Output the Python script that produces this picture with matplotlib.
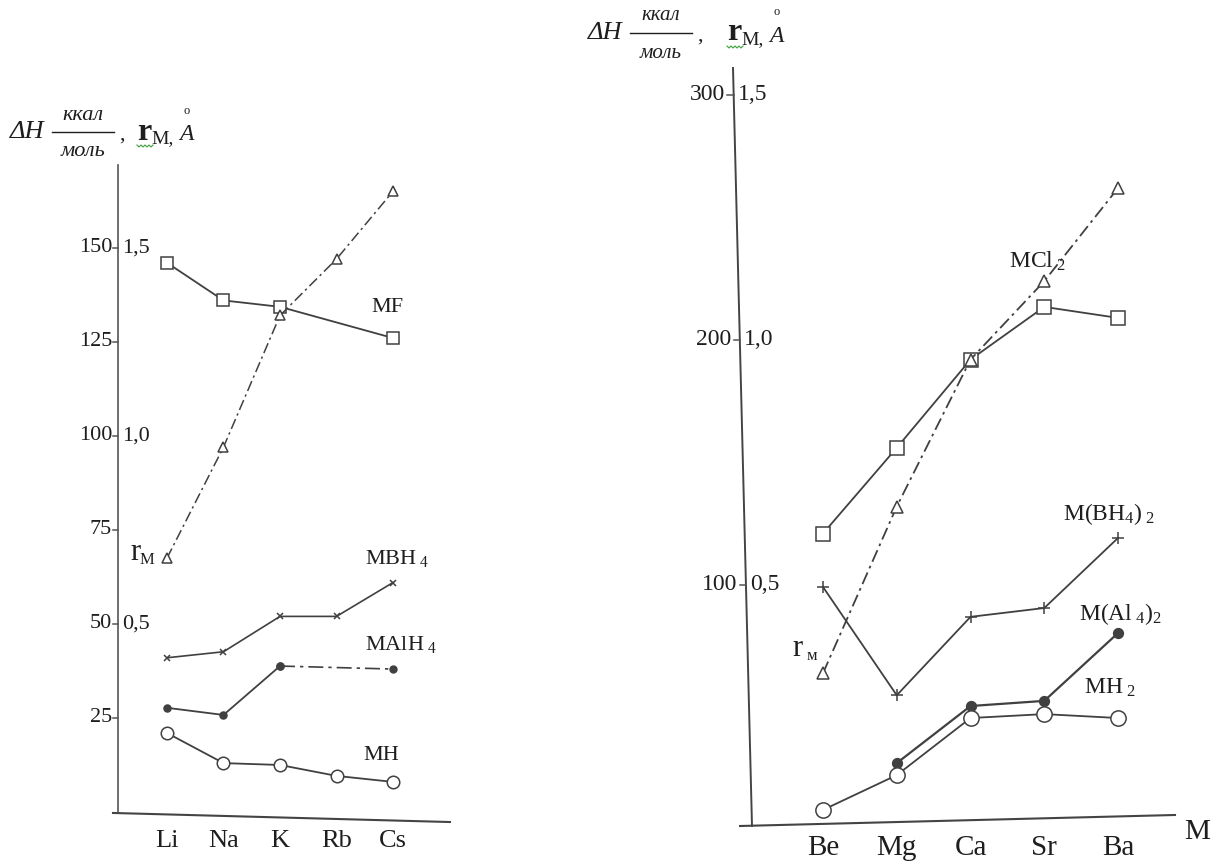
import numpy as np
import matplotlib
matplotlib.use("Agg")
import matplotlib.pyplot as plt
from matplotlib.lines import Line2D

plt.rcParams['font.family'] = ['Liberation Serif', 'DejaVu Serif']
plt.rcParams['mathtext.fontset'] = 'custom'
plt.rcParams['mathtext.rm'] = 'Liberation Serif'
plt.rcParams['mathtext.it'] = 'Liberation Serif:italic'
plt.rcParams['mathtext.bf'] = 'Liberation Serif:bold'

# щелочные металлы
alk = ['Li', 'Na', 'K', 'Rb', 'Cs']
mf = [146, 136, 134.3, None, 126]          # ккал/моль (Rb нет)
mbh4 = [41, 42.6, 52, 52, 61]
malh4 = [27.7, 25.8, 38.8, 38.4, 38]
mh = [21, 13, 12.5, 9.6, 8]
r_alk = [0.675, 0.97, 1.32, 1.47, 1.65]    # радиус, Å

# щелочноземельные металлы
aek = ['Be', 'Mg', 'Ca', 'Sr', 'Ba']
mcl2 = [121, 156, 192, 213.5, 209]
mbh4_2 = [99.2, 55, 87, 90.6, 119.2]
malh4_2 = [None, 27.3, 50.6, 52.7, 80.4]
mh2 = [8.2, 22.4, 45.7, 47.3, 45.7]
r_aek = [0.32, 0.66, 0.96, 1.12, 1.31]

left_ticks = [25, 50, 75, 100, 125, 150]
left_r_ticks = [50, 100, 150]
left_r_labels = ['0,5', '1,0', '1,5']
right_ticks = [100, 200, 300]
right_r_labels = ['0,5', '1,0', '1,5']

W, H = 1212, 863
fig = plt.figure(figsize=(W / 100, H / 100), dpi=100)
fig.patch.set_facecolor('white')

LC = '#404040'
TC = '#1e1e1e'


def fx(px):
    return px / W


def fy(py):
    return 1 - py / H


def put(x, y, s, size, **kw):
    kw.setdefault('color', TC)
    kw.setdefault('ha', 'left')
    kw.setdefault('va', 'center')
    fig.text(fx(x), fy(y), s, fontsize=size, **kw)


def series(ax, xs, ys, marker, ms, face, ls='-', lw=1.3):
    pts = [(x, y) for x, y in zip(xs, ys) if y is not None]
    ax.plot([p[0] for p in pts], [p[1] for p in pts], color=LC, lw=lw, ls=ls,
            marker=marker, ms=ms, mfc=face, mec=LC, mew=1.1, clip_on=False, zorder=3)


dashdot = (0, (7, 2.5, 1.5, 2.5))

# ---------- левый график: MX ----------
axl = fig.add_axes([fx(118), fy(812), (445 - 118) / W, (812 - 165) / H])
axl.set_xlim(-0.867, 4.92)
axl.set_ylim(0, 172)
axl.axis('off')
xl = np.arange(len(alk))

axl.plot([0, 0], [0, 1], transform=axl.transAxes, color='#555', lw=1.2, clip_on=False)
axl.plot([-0.0153, 1.0153], [-0.0015, -0.0155], transform=axl.transAxes,
         color='#444', lw=1.5, clip_on=False)

series(axl, xl, mf, 's', 8, 'white')
series(axl, xl, [v * 100 for v in r_alk], '^', 7, 'white', ls=dashdot, lw=1.1)
series(axl, xl, mbh4, 'x', 5, 'none', lw=1.2)
series(axl, xl[:3], malh4[:3], 'o', 5, LC)
axl.plot(xl[2:], malh4[2:], color=LC, lw=1.2, ls=(0, (9, 3, 2, 3)), clip_on=False)
axl.plot(xl[2::2], malh4[2::2], 'o', color=LC, ms=5, clip_on=False)
series(axl, xl, mh, 'o', 9, 'white')

ty = axl.get_yaxis_transform()
for v in left_ticks:
    axl.plot([-0.016, 0], [v, v], transform=ty, color='#555', lw=1.1, clip_on=False)
    axl.text(-0.018, v, str(v), transform=ty, ha='right', va='center', fontsize=16, color=TC)
for v, s in zip(left_r_ticks, left_r_labels):
    axl.text(0.013, v, s, transform=ty, ha='left', va='center', fontsize=16, color=TC)

tx = axl.get_xaxis_transform()
for i, s in enumerate(alk):
    axl.text(i, -0.045, s, transform=tx, ha='center', va='center', fontsize=19, color=TC)

axl.text(3.9, 134, 'MF', fontsize=16, ha='center', va='center', color=TC)
axl.text(3.5, 67.5, r'MBH$_{\ 4}$', fontsize=16, ha='left', va='center', color=TC)
axl.text(3.5, 44.5, r'MAlH$_{\ 4}$', fontsize=16, ha='left', va='center', color=TC)
axl.text(3.8, 15, 'MH', fontsize=16, ha='center', va='center', color=TC)
axl.text(-0.55, 69, 'r', fontsize=22, ha='center', va='center', color=TC)
axl.text(-0.36, 67, 'М', fontsize=12, ha='center', va='center', color=TC)

# ---------- правый график: MX2 ----------
axr = fig.add_axes([fx(733), fy(830), (1180 - 733) / W, (830 - 68) / H])
axr.set_xlim(-1.22, 4.84)
axr.set_ylim(0, 311)
axr.axis('off')
xr = np.arange(len(aek))

axr.plot([0, 0.0425], [1, 0.00525], transform=axr.transAxes, color='#444', lw=1.4, clip_on=False)
axr.plot([0.0157, 0.9888], [0.00525, 0.0197], transform=axr.transAxes,
         color='#444', lw=1.5, clip_on=False)

series(axr, xr, mcl2, 's', 10, 'white')
series(axr, xr, [v * 200 for v in r_aek], '^', 9, 'white', ls=dashdot, lw=1.3)
series(axr, xr, mbh4_2, '+', 9, 'none')
series(axr, xr, malh4_2, 'o', 7, LC, lw=1.6)
series(axr, xr, mh2, 'o', 11, 'white')

tyr = axr.get_yaxis_transform()
for v, s in zip(right_ticks, right_r_labels):
    frac = 0.0425 * (1 - v / 311)
    axr.plot([frac - 0.014, frac], [v, v], transform=tyr, color='#555', lw=1.1, clip_on=False)
    axr.text(frac - 0.02, v, str(v), transform=tyr, ha='right', va='center', fontsize=17, color=TC)
    axr.text(frac + 0.01, v, s, transform=tyr, ha='left', va='center', fontsize=17, color=TC)

txr = axr.get_xaxis_transform()
for i, s in enumerate(aek):
    axr.text(i, -0.024, s, transform=txr, ha='center', va='center', fontsize=21, color=TC)
axr.text(1.01, -0.002, 'M', transform=axr.transAxes, fontsize=21, ha='left', va='center', color=TC)

axr.text(2.52, 232, r'MCl$_{\ 2}$', fontsize=17, ha='left', va='center', color=TC)
axr.text(3.26, 129, r'M(BH$_4$)$_{\ 2}$', fontsize=17, ha='left', va='center', color=TC)
axr.text(3.47, 88, r'M(Al$_{\ 4}$)$_2$', fontsize=17, ha='left', va='center', color=TC)
axr.text(3.54, 58, r'MH$_{\ 2}$', fontsize=17, ha='left', va='center', color=TC)
axr.text(-0.35, 74, 'r', fontsize=22, ha='center', va='center', color=TC)
axr.text(-0.15, 71, 'м', fontsize=12, ha='center', va='center', color=TC)


# ---------- подписи осей ----------
def ylabel(x0, y0, rx, frac_size):
    put(x0, y0, 'ΔH', 19, style='italic')
    fig.add_artist(Line2D([fx(x0 + 42), fx(x0 + 104)], [fy(y0), fy(y0)], color=TC, lw=1.0))
    put(x0 + 73, y0 - 17, 'ккал', frac_size, style='italic', ha='center')
    put(x0 + 73, y0 + 20, 'моль', frac_size, style='italic', ha='center')
    put(x0 + 109, y0 + 3, ',', 16)
    put(rx, y0, 'r', 23, weight='bold')
    put(rx + 14, y0 + 7, 'М,', 14)
    put(rx + 42, y0 + 3, 'A', 17, style='italic')
    put(rx + 46, y0 - 21, 'o', 9)
    # волнистое подчеркивание под r
    zx = np.linspace(rx, rx + 16, 9)
    zy = y0 + 13 + np.array([0, 2, 0, 2, 0, 2, 0, 2, 0])
    fig.add_artist(Line2D(fx(zx), fy(zy), color='#3aa03a', lw=0.8))


ylabel(10, 132, 137, 16)
ylabel(588, 33, 727, 15)

fig.savefig('out.png', dpi=100, facecolor='white')
